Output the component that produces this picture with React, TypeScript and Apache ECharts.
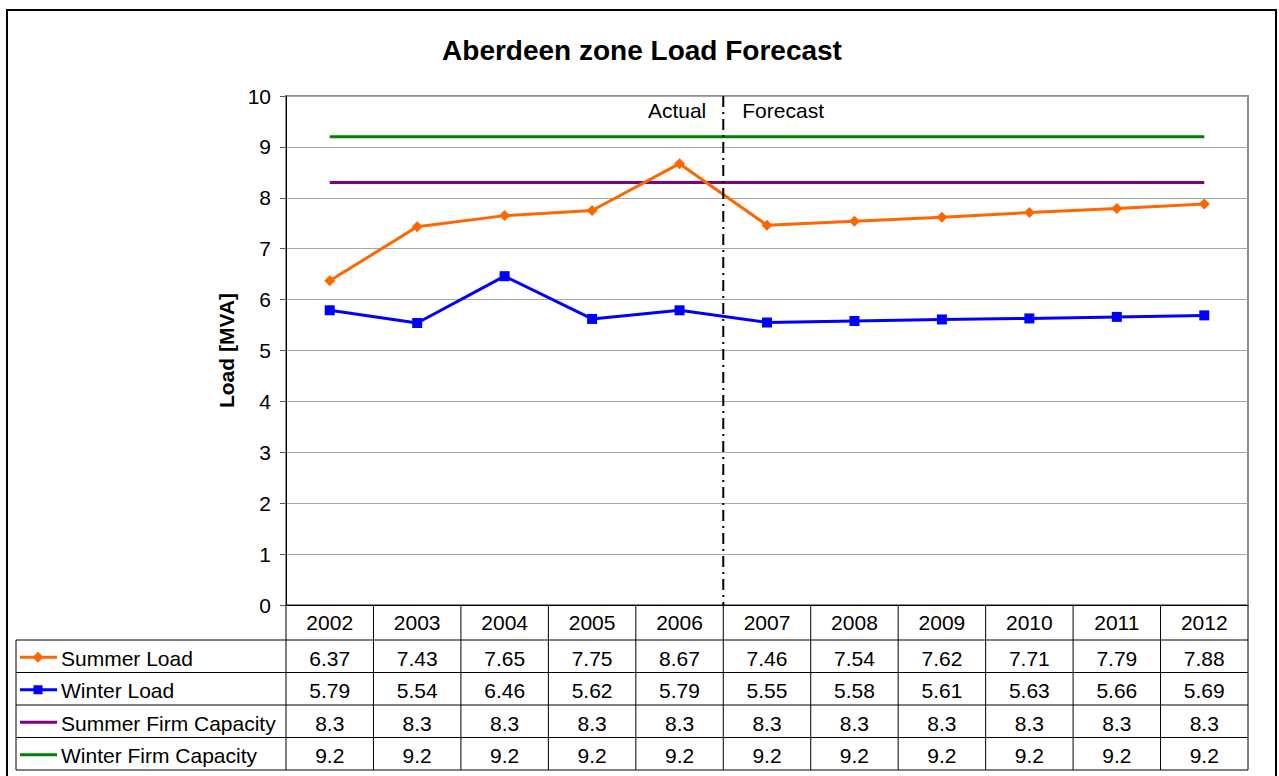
import React, { useEffect, useRef } from "react";
import * as echarts from "echarts";

const years = ["2002", "2003", "2004", "2005", "2006", "2007", "2008", "2009", "2010", "2011", "2012"];
const summerLoad = [6.37, 7.43, 7.65, 7.75, 8.67, 7.46, 7.54, 7.62, 7.71, 7.79, 7.88];
const winterLoad = [5.79, 5.54, 6.46, 5.62, 5.79, 5.55, 5.58, 5.61, 5.63, 5.66, 5.69];
const summerFirm = [8.3, 8.3, 8.3, 8.3, 8.3, 8.3, 8.3, 8.3, 8.3, 8.3, 8.3];
const winterFirm = [9.2, 9.2, 9.2, 9.2, 9.2, 9.2, 9.2, 9.2, 9.2, 9.2, 9.2];
const seriesNames = ["Summer Load", "Winter Load", "Summer Firm Capacity", "Winter Firm Capacity"];
const seriesColors = ["#FF6600", "#0000FF", "#800080", "#008000"];
const seriesData = [summerLoad, winterLoad, summerFirm, winterFirm];
const lastActualIndex = 4;

const FONT = "'Liberation Sans', Arial, sans-serif";
const FS = 21;
const W = 1279;
const H = 776;
const GRID_L = 286;
const GRID_T = 96;
const GRID_R = 1248;
const GRID_B = 605;
const HEAD_B = 640;
const ROW_H = 32.5;
const TABLE_L = 16;

export default function App() {
  const ref = useRef<HTMLDivElement>(null);
  useEffect(() => {
    if (!ref.current) return;
    const chart = echarts.init(ref.current, null, { renderer: "svg" });
    const option: any = {
      animation: false,
      backgroundColor: "#fff",
      grid: {
        left: GRID_L,
        top: GRID_T,
        right: W - GRID_R,
        bottom: H - GRID_B,
        show: true,
        borderColor: "#8c8c8c",
        borderWidth: 2,
        backgroundColor: "transparent",
      },
      xAxis: {
        type: "category",
        data: years,
        axisLine: { show: true, lineStyle: { color: "#000", width: 1 } },
        axisTick: { show: false },
        axisLabel: { color: "#000", fontSize: FS, fontFamily: FONT, margin: 7 },
        splitLine: { show: false },
      },
      yAxis: {
        type: "value",
        min: 0,
        max: 10,
        interval: 1,
        name: "Load [MVA]",
        nameLocation: "middle",
        nameGap: 47,
        nameTextStyle: { color: "#000", fontSize: FS, fontWeight: "bold", fontFamily: FONT },
        axisLine: { show: true, lineStyle: { color: "#000", width: 1 } },
        axisTick: { show: true, length: 6, lineStyle: { color: "#555" } },
        axisLabel: { color: "#000", fontSize: FS, fontFamily: FONT, margin: 15 },
        splitLine: { show: true, lineStyle: { color: "#a6a6a6", width: 1 } },
      },
      series: seriesNames.map((name, i) => ({
        name,
        type: "line",
        data: seriesData[i],
        symbol: i === 0 ? "diamond" : i === 1 ? "rect" : "none",
        symbolSize: i === 0 ? 11 : 10,
        showSymbol: i < 2,
        lineStyle: { color: seriesColors[i], width: 3 },
        itemStyle: { color: seriesColors[i] },
        z: 10 - i,
      })),
    };
    chart.setOption(option);

    const cx = (i: number) => (chart.convertToPixel({ gridIndex: 0 }, [i, 0]) as number[])[0];
    const colW = cx(1) - cx(0);
    const g: any[] = [];
    g.push({ type: "rect", shape: { x: 7, y: 10, width: 1269, height: 800 }, style: { fill: "none", stroke: "#000", lineWidth: 2 }, silent: true });
    g.push({
      type: "text",
      x: 642,
      y: 50,
      style: { text: "Aberdeen zone Load Forecast", fill: "#000", font: `bold 28px ${FONT}`, textAlign: "center", textVerticalAlign: "middle" },
    });
    const divX = (cx(lastActualIndex) + cx(lastActualIndex + 1)) / 2;
    g.push({ type: "line", shape: { x1: divX, y1: GRID_T, x2: divX, y2: GRID_B }, style: { stroke: "#000", lineWidth: 2, lineDash: [11, 5, 2, 5] }, z: 20 });
    g.push({ type: "text", x: divX - 17, y: 110, style: { text: "Actual", fill: "#000", font: `${FS}px ${FONT}`, textAlign: "right", textVerticalAlign: "middle" } });
    g.push({ type: "text", x: divX + 19, y: 110, style: { text: "Forecast", fill: "#000", font: `${FS}px ${FONT}`, textAlign: "left", textVerticalAlign: "middle" } });

    const tableBottom = HEAD_B + ROW_H * seriesNames.length;
    const lineStyle = { stroke: "#000", lineWidth: 1 };
    for (let r = 0; r <= seriesNames.length; r++) {
      const y = HEAD_B + r * ROW_H;
      g.push({ type: "line", shape: { x1: TABLE_L, y1: y, x2: GRID_R, y2: y }, style: lineStyle, z: 5 });
    }
    g.push({ type: "line", shape: { x1: TABLE_L, y1: HEAD_B, x2: TABLE_L, y2: tableBottom }, style: lineStyle, z: 5 });
    for (let c = 0; c <= years.length; c++) {
      const x = c === years.length ? cx(c - 1) + colW / 2 : cx(c) - colW / 2;
      g.push({ type: "line", shape: { x1: x, y1: GRID_B, x2: x, y2: tableBottom }, style: lineStyle, z: 5 });
    }
    seriesNames.forEach((name, r) => {
      const yc = HEAD_B + r * ROW_H + ROW_H / 2;
      g.push({ type: "line", shape: { x1: 20, y1: yc + 1, x2: 57, y2: yc + 1 }, style: { stroke: seriesColors[r], lineWidth: 3 } });
      if (r === 0) {
        g.push({ type: "polygon", shape: { points: [[38, yc - 4.5], [43.5, yc + 1], [38, yc + 6.5], [32.5, yc + 1]] }, style: { fill: seriesColors[r] } });
      } else if (r === 1) {
        g.push({ type: "rect", shape: { x: 33.5, y: yc - 3.5, width: 9, height: 9 }, style: { fill: seriesColors[r] } });
      }
      g.push({ type: "text", x: 61, y: yc + 2, style: { text: name, fill: "#000", font: `${FS}px ${FONT}`, textAlign: "left", textVerticalAlign: "middle" } });
      seriesData[r].forEach((v, i) => {
        g.push({ type: "text", x: cx(i), y: yc + 2, style: { text: String(v), fill: "#000", font: `${FS}px ${FONT}`, textAlign: "center", textVerticalAlign: "middle" } });
      });
    });
    chart.setOption({ graphic: g });
    return () => chart.dispose();
  }, []);
  return <div ref={ref} style={{ position: "absolute", left: 0, top: 0, width: W, height: H }} />;
}
